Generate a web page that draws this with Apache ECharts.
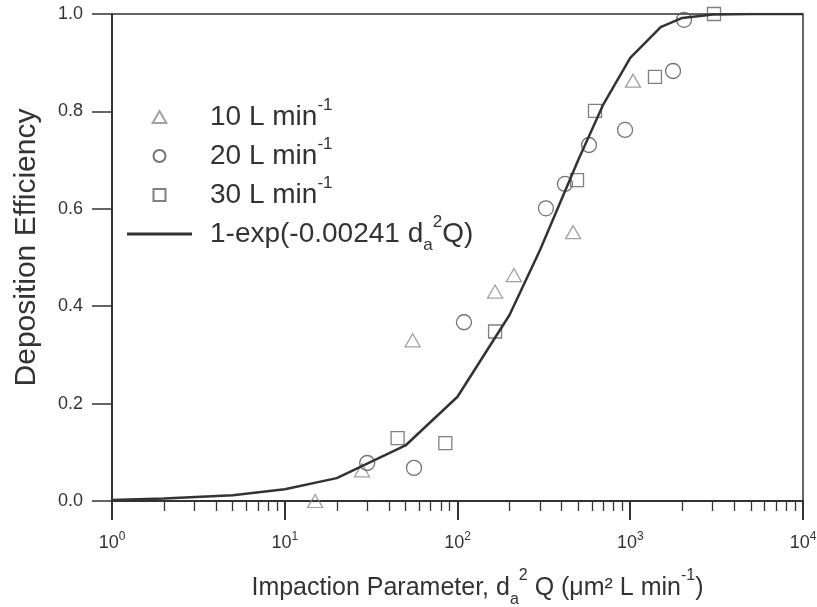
<!DOCTYPE html>
<html>
<head>
<meta charset="utf-8">
<script src="https://cdn.jsdelivr.net/npm/echarts@6/dist/echarts.min.js"></script>
<style>html,body{margin:0;padding:0;background:#fff}#c{width:817px;height:607px}</style>
</head>
<body>
<div id="c"></div>
<script>
// ---- data ----
const flow10X = [15, 28, 55, 165, 212, 467, 1037];
const flow10Y = [0.0, 0.063, 0.33, 0.43, 0.464, 0.552, 0.863];
const flow20X = [30, 56, 109, 325, 419, 577, 933, 1769, 2048];
const flow20Y = [0.078, 0.068, 0.367, 0.601, 0.651, 0.731, 0.762, 0.883, 0.988];
const flow30X = [45, 85, 165, 492, 625, 1390, 3054];
const flow30Y = [0.129, 0.119, 0.348, 0.659, 0.801, 0.871, 1.0];
const fitX = [1, 2, 5, 10, 20, 50, 100, 200, 300, 500, 700, 1000, 1500, 2000, 3000, 5000, 10000];
const fitY = [0.002, 0.005, 0.012, 0.024, 0.047, 0.114, 0.214, 0.382, 0.515, 0.700, 0.815, 0.910, 0.973, 0.992, 0.999, 1.0, 1.0];
const xMajorTicks = [1, 10, 100, 1000, 10000];
const xMinorTicks = [2,3,4,5,6,7,8,9, 20,30,40,50,60,70,80,90, 200,300,400,500,600,700,800,900, 2000,3000,4000,5000,6000,7000,8000,9000];
const seriesNames = ['10 L min-1', '20 L min-1', '30 L min-1', 'fit'];

const zip = (xs, ys) => xs.map((x, i) => [x, ys[i]]);
const FONT = "'Liberation Sans', Arial, Helvetica, sans-serif";
const TXT = '#333';

const legendRich = {
  n: { fontSize: 28, lineHeight: 40, fontFamily: FONT, color: TXT },
  s: { fontSize: 17, lineHeight: 10, verticalAlign: 'top', fontFamily: FONT, color: TXT },
  sp: { fontSize: 17, lineHeight: 12, verticalAlign: 'top', fontFamily: FONT, color: TXT },
  b: { fontSize: 17, lineHeight: 18, verticalAlign: 'bottom', fontFamily: FONT, color: TXT }
};
const legendLabels = {
  '10 L min-1': '{n|10 L min}{s|-1}',
  '20 L min-1': '{n|20 L min}{s|-1}',
  '30 L min-1': '{n|30 L min}{s|-1}',
  'fit': '{n|1-exp(-0.00241 d}{b|a}{sp|2}{n|Q)}'
};

const chart = echarts.init(document.getElementById('c'), null, { renderer: 'canvas' });
const option = {
  backgroundColor: '#fff',
  animation: false,
  grid: {
    left: 112, right: 14, top: 14, bottom: 106,
    outerBoundsMode: 'none', containLabel: false,
    show: true, borderColor: '#333', borderWidth: 1.5, backgroundColor: 'transparent'
  },
  legend: {
    data: [
      { name: seriesNames[0], icon: 'path://M6,0L12,10.5H0Z' },
      { name: seriesNames[1], icon: 'circle' },
      { name: seriesNames[2], icon: 'path://M0,0h10v10h-10z' },
      { name: seriesNames[3], icon: 'path://M0,0h65v3h-65z', itemStyle: { color: '#333', borderWidth: 0 } }
    ],
    orient: 'vertical',
    left: 127, top: 97, padding: 0,
    itemWidth: 65, itemHeight: 12, itemGap: 5,
    symbolKeepAspect: true,
    formatter: name => legendLabels[name],
    textStyle: { padding: [0, 0, 0, 13], rich: legendRich }
  },
  xAxis: [
    {
      type: 'log', logBase: 10, min: 1, max: 10000,
      axisLine: { lineStyle: { color: '#333', width: 2 } },
      axisTick: { show: true, length: 19, lineStyle: { color: '#333', width: 2 }, customValues: xMajorTicks },
      axisLabel: {
        margin: 30,
        customValues: xMajorTicks,
        formatter: v => '{b|10}{s|' + Math.round(Math.log10(v)) + '}',
        rich: {
          b: { fontSize: 18, lineHeight: 24, fontFamily: FONT, color: TXT },
          s: { fontSize: 12, lineHeight: 10, verticalAlign: 'top', fontFamily: FONT, color: TXT }
        }
      },
      splitLine: { show: false },
      minorTick: { show: false },
      name: '{n|Impaction Parameter, d}{b|a}{s|2}{n| Q (μm² L min}{s|-1}{n|)}',
      nameLocation: 'middle', nameGap: 67,
      nameTextStyle: {
        padding: [0, 0, 0, 40],
        rich: {
          n: { fontSize: 25, lineHeight: 40, fontFamily: FONT, color: TXT },
          s: { fontSize: 16, lineHeight: 16, verticalAlign: 'top', fontFamily: FONT, color: TXT },
          b: { fontSize: 16, lineHeight: 18, verticalAlign: 'bottom', fontFamily: FONT, color: TXT }
        }
      }
    },
    {
      type: 'log', logBase: 10, min: 1, max: 10000,
      position: 'top', offset: -487,
      axisLine: { show: false },
      axisTick: { show: true, inside: true, length: 10, lineStyle: { color: '#333', width: 1.3 }, customValues: xMinorTicks },
      axisLabel: { show: false },
      splitLine: { show: false }
    }
  ],
  yAxis: {
    type: 'value', min: 0, max: 1, interval: 0.2,
    axisLine: { show: true, lineStyle: { color: '#333', width: 2 } },
    axisTick: { show: true, length: 20, lineStyle: { color: '#333', width: 1.5 } },
    axisLabel: { margin: 29, fontSize: 18, fontFamily: FONT, color: TXT, formatter: v => v.toFixed(1) },
    splitLine: { show: false },
    name: 'Deposition Efficiency',
    nameLocation: 'middle', nameGap: 70,
    nameTextStyle: { fontSize: 30, fontFamily: FONT, color: TXT, padding: [0, 0, 0, 20] }
  },
  series: [
    {
      name: seriesNames[0], type: 'scatter', symbol: 'triangle', symbolSize: [15, 13], symbolKeepAspect: true,
      itemStyle: { color: 'rgba(0,0,0,0)', borderColor: '#8a8a8a', borderWidth: 1.3 },
      data: zip(flow10X, flow10Y), z: 3
    },
    {
      name: seriesNames[1], type: 'scatter', symbol: 'circle', symbolSize: 15,
      itemStyle: { color: 'rgba(0,0,0,0)', borderColor: '#505050', borderWidth: 1.3 },
      data: zip(flow20X, flow20Y), z: 3
    },
    {
      name: seriesNames[2], type: 'scatter', symbol: 'rect', symbolSize: 13, symbolKeepAspect: true,
      itemStyle: { color: 'rgba(0,0,0,0)', borderColor: '#606060', borderWidth: 1.3 },
      data: zip(flow30X, flow30Y), z: 3
    },
    {
      name: seriesNames[3], type: 'line', symbol: 'none', showSymbol: false, smooth: false,
      lineStyle: { color: '#333', width: 2.5 },
      itemStyle: { color: '#333' },
      data: zip(fitX, fitY), z: 4
    }
  ]
};
chart.setOption(option);
</script>
</body>
</html>
